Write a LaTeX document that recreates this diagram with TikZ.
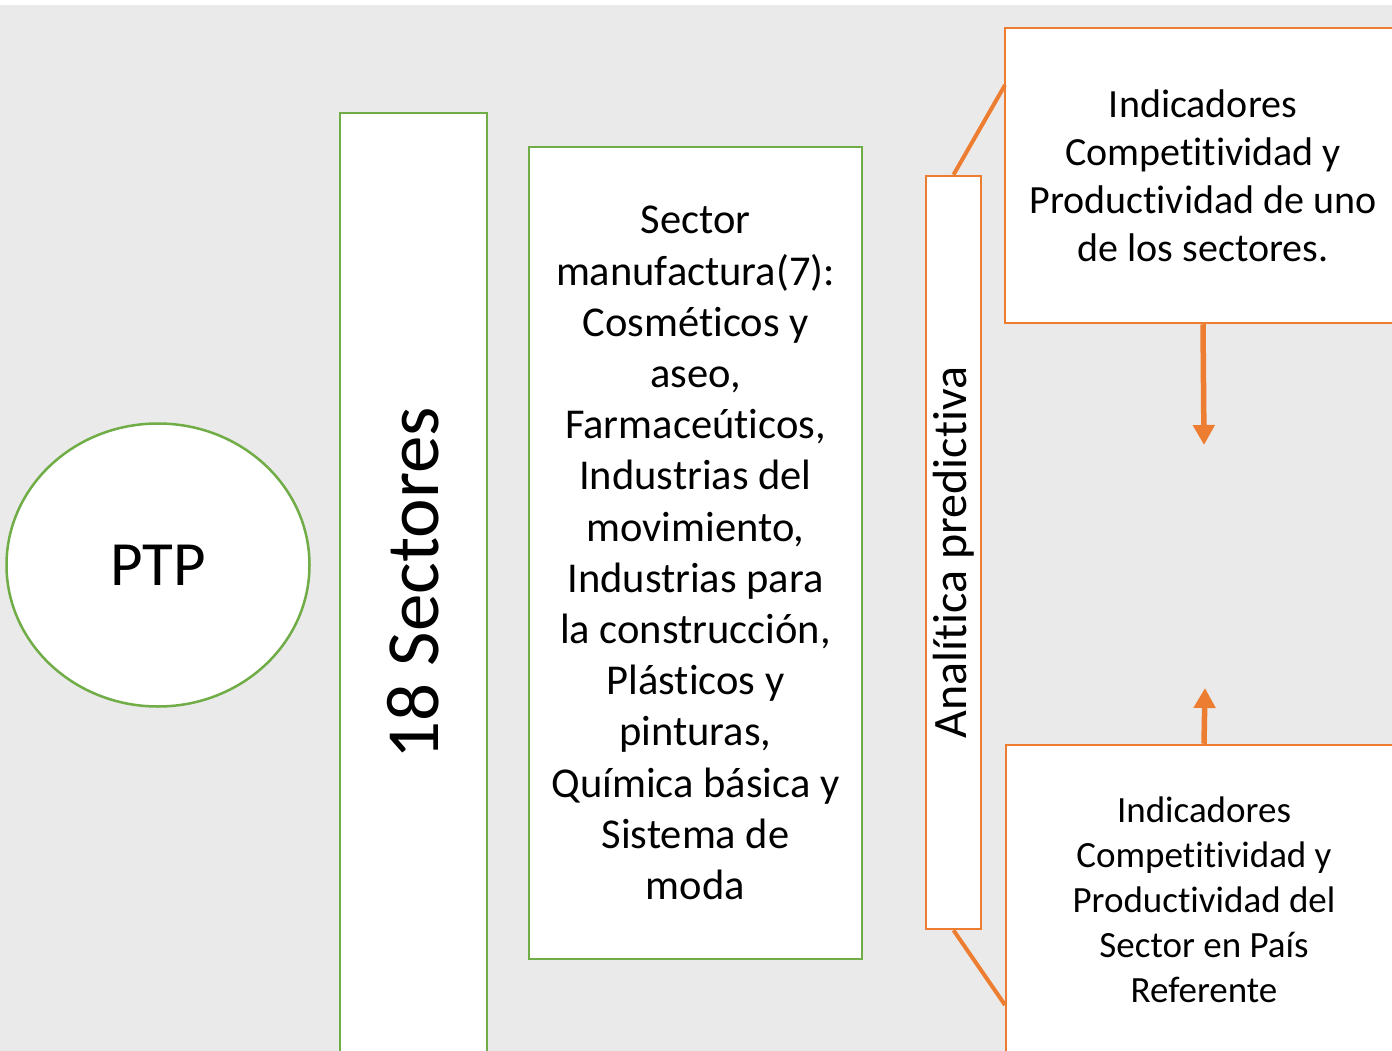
\documentclass[tikz,border=0pt]{standalone}
\usepackage{fontspec}
\setmainfont{Carlito}[Ligatures=NoCommon]
\usetikzlibrary{arrows.meta,shapes.geometric}
\definecolor{verde}{HTML}{70AD47}
\definecolor{naranja}{HTML}{ED7D31}
\definecolor{fondo}{HTML}{EAEAEA}
\begin{document}
\begin{tikzpicture}[x=1pt, y=-1pt,
		caja/.style={draw=verde, line width=2.5pt, fill=white, inner sep=0pt, align=center},
		cajan/.style={draw=naranja, line width=2.5pt, fill=white, inner sep=0pt, align=center},
		flecha/.style={naranja, line width=5.5pt, -{Triangle[width=21pt,length=20pt]}}]
		\useasboundingbox (0,0) rectangle (1392,1051);
		\clip (0,0) rectangle (1392,1051);
		\fill[fondo] (0,5) rectangle (1392,1051);
		\node[caja, ellipse, minimum width=303pt, minimum height=283pt, font=\fontsize{63}{75}\selectfont] (ptp) at (158,565) {PTP};
		\node[caja, rotate=90, minimum width=940pt, minimum height=147pt, font=\fontsize{75}{90}\selectfont] (sect) at (413.5,583) {18 Sectores};
		\node[caja, minimum width=333pt, minimum height=812pt, font=\fontsize{42.5}{51.2}\selectfont] (manuf) at (695.5,553) {Sector\\manufactura(7):\\Cosméticos y\\aseo,\\Farmaceúticos,\\Industrias del\\movimiento,\\Industrias para\\la construcción,\\Plásticos y\\pinturas,\\Química básica y\\Sistema de\\moda};
		\node[cajan, rotate=90, minimum width=753pt, minimum height=55pt, font=\fontsize{48}{58}\selectfont] (anal) at (953.5,552.5) {Analítica predictiva};
		\node[cajan, minimum width=396pt, minimum height=295pt, font=\fontsize{40}{48}\selectfont] (ind1) at (1203,175.5) {Indicadores\\Competitividad y\\Productividad de uno\\de los sectores.};
		\node[cajan, minimum width=396pt, minimum height=310pt, font=\fontsize{37}{45}\selectfont] (ind2) at (1204,900) {Indicadores\\Competitividad y\\Productividad del\\Sector en País\\Referente};
		% conectores
		\coordinate (c1) at (1005,85);
		\coordinate (c2) at (1005,1005);
		\draw[naranja, line width=4pt] (anal.east) -- (c1);
		\draw[naranja, line width=4pt] (anal.west) -- (c2);
		\coordinate (a1) at (1204,445);
		\coordinate (a2) at (1205,688);
		\draw[flecha] (ind1.south) -- (a1);
		\draw[flecha] (ind2.north) -- (a2);
\end{tikzpicture}
\end{document}
